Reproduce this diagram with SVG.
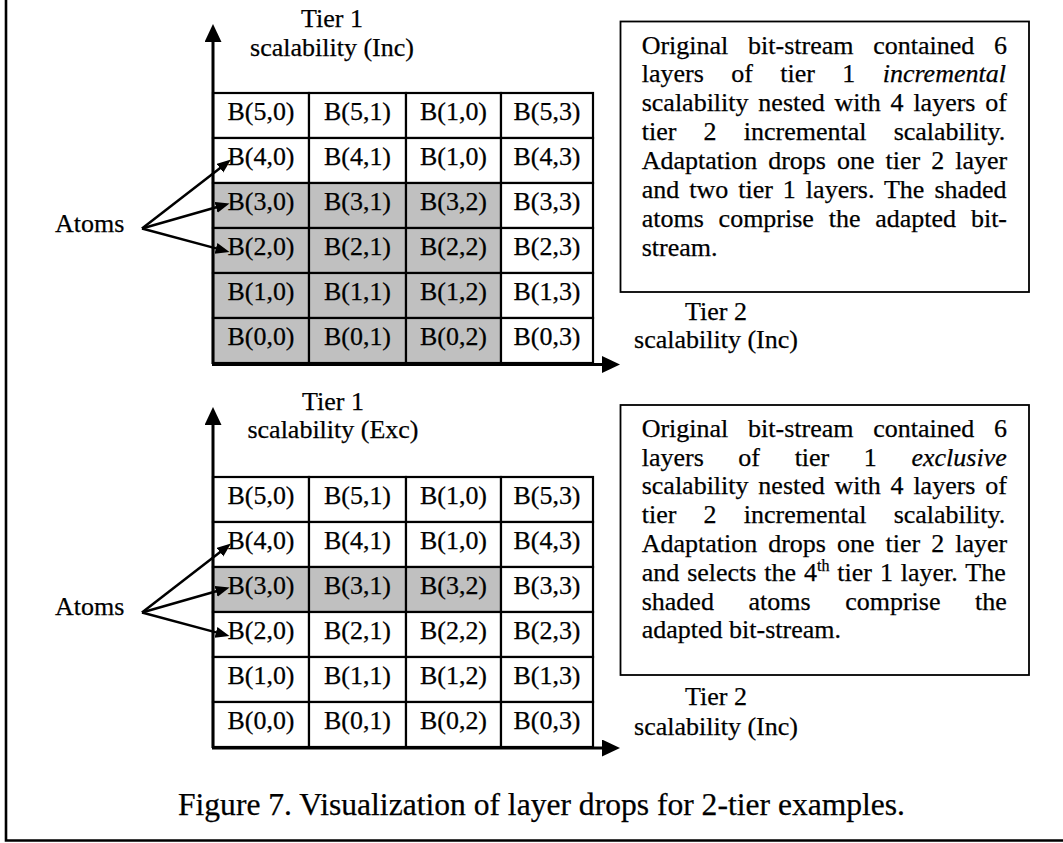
<svg xmlns="http://www.w3.org/2000/svg" width="1063" height="843" viewBox="0 0 1063 843">
<style>
text{font-family:"Liberation Serif","Times New Roman",serif;fill:#000;stroke:#000;stroke-width:0.25}
.cell rect{fill:#fff;stroke:#000;stroke-width:2.2}
.cell.on rect{fill:#c0c0c0}
.cell text{font-size:25px;text-anchor:middle}
.lbl{font-size:26px;text-anchor:middle}
.para{font-size:26px}
.box{fill:#fff;stroke:#000;stroke-width:1.8}
.axis{stroke:#000;stroke-width:3;fill:none}
.atom{stroke:#000;stroke-width:2.5;fill:none}
.frame{stroke:#000;stroke-width:2.6;fill:none}
</style>
<defs>
<marker id="axh" markerUnits="userSpaceOnUse" markerWidth="18" markerHeight="18" refX="2" refY="8.5" orient="auto"><path d="M0,0 L18,8.5 L0,17 z" fill="#000"/></marker>
<marker id="ath" markerUnits="userSpaceOnUse" markerWidth="14" markerHeight="12" refX="2" refY="5.5" orient="auto"><path d="M0,0 L14,5.5 L0,11 z" fill="#000"/></marker>
</defs>
<rect width="1063" height="843" fill="#fff"/>
<path class="frame" d="M6,-2 V840.5 H1065"/>

<!-- ===== Top panel ===== -->
<g id="top-grid">
<g id="t-r5c0" class="cell"><rect x="213" y="93" width="96" height="45"/><text x="261" y="120" textLength="67" lengthAdjust="spacingAndGlyphs">B(5,0)</text></g>
<g id="t-r5c1" class="cell"><rect x="309" y="93" width="97" height="45"/><text x="357.5" y="120" textLength="67" lengthAdjust="spacingAndGlyphs">B(5,1)</text></g>
<g id="t-r5c2" class="cell"><rect x="406" y="93" width="95" height="45"/><text x="453.5" y="120" textLength="67" lengthAdjust="spacingAndGlyphs">B(1,0)</text></g>
<g id="t-r5c3" class="cell"><rect x="501" y="93" width="92" height="45"/><text x="547" y="120" textLength="67" lengthAdjust="spacingAndGlyphs">B(5,3)</text></g>

<g id="t-r4c0" class="cell"><rect x="213" y="138" width="96" height="45"/><text x="261" y="165" textLength="67" lengthAdjust="spacingAndGlyphs">B(4,0)</text></g>
<g id="t-r4c1" class="cell"><rect x="309" y="138" width="97" height="45"/><text x="357.5" y="165" textLength="67" lengthAdjust="spacingAndGlyphs">B(4,1)</text></g>
<g id="t-r4c2" class="cell"><rect x="406" y="138" width="95" height="45"/><text x="453.5" y="165" textLength="67" lengthAdjust="spacingAndGlyphs">B(1,0)</text></g>
<g id="t-r4c3" class="cell"><rect x="501" y="138" width="92" height="45"/><text x="547" y="165" textLength="67" lengthAdjust="spacingAndGlyphs">B(4,3)</text></g>

<g id="t-r3c0" class="cell on"><rect x="213" y="183" width="96" height="45"/><text x="261" y="210" textLength="67" lengthAdjust="spacingAndGlyphs">B(3,0)</text></g>
<g id="t-r3c1" class="cell on"><rect x="309" y="183" width="97" height="45"/><text x="357.5" y="210" textLength="67" lengthAdjust="spacingAndGlyphs">B(3,1)</text></g>
<g id="t-r3c2" class="cell on"><rect x="406" y="183" width="95" height="45"/><text x="453.5" y="210" textLength="67" lengthAdjust="spacingAndGlyphs">B(3,2)</text></g>
<g id="t-r3c3" class="cell"><rect x="501" y="183" width="92" height="45"/><text x="547" y="210" textLength="67" lengthAdjust="spacingAndGlyphs">B(3,3)</text></g>

<g id="t-r2c0" class="cell on"><rect x="213" y="228" width="96" height="45"/><text x="261" y="255" textLength="67" lengthAdjust="spacingAndGlyphs">B(2,0)</text></g>
<g id="t-r2c1" class="cell on"><rect x="309" y="228" width="97" height="45"/><text x="357.5" y="255" textLength="67" lengthAdjust="spacingAndGlyphs">B(2,1)</text></g>
<g id="t-r2c2" class="cell on"><rect x="406" y="228" width="95" height="45"/><text x="453.5" y="255" textLength="67" lengthAdjust="spacingAndGlyphs">B(2,2)</text></g>
<g id="t-r2c3" class="cell"><rect x="501" y="228" width="92" height="45"/><text x="547" y="255" textLength="67" lengthAdjust="spacingAndGlyphs">B(2,3)</text></g>

<g id="t-r1c0" class="cell on"><rect x="213" y="273" width="96" height="45"/><text x="261" y="300" textLength="67" lengthAdjust="spacingAndGlyphs">B(1,0)</text></g>
<g id="t-r1c1" class="cell on"><rect x="309" y="273" width="97" height="45"/><text x="357.5" y="300" textLength="67" lengthAdjust="spacingAndGlyphs">B(1,1)</text></g>
<g id="t-r1c2" class="cell on"><rect x="406" y="273" width="95" height="45"/><text x="453.5" y="300" textLength="67" lengthAdjust="spacingAndGlyphs">B(1,2)</text></g>
<g id="t-r1c3" class="cell"><rect x="501" y="273" width="92" height="45"/><text x="547" y="300" textLength="67" lengthAdjust="spacingAndGlyphs">B(1,3)</text></g>

<g id="t-r0c0" class="cell on"><rect x="213" y="318" width="96" height="45"/><text x="261" y="345" textLength="67" lengthAdjust="spacingAndGlyphs">B(0,0)</text></g>
<g id="t-r0c1" class="cell on"><rect x="309" y="318" width="97" height="45"/><text x="357.5" y="345" textLength="67" lengthAdjust="spacingAndGlyphs">B(0,1)</text></g>
<g id="t-r0c2" class="cell on"><rect x="406" y="318" width="95" height="45"/><text x="453.5" y="345" textLength="67" lengthAdjust="spacingAndGlyphs">B(0,2)</text></g>
<g id="t-r0c3" class="cell"><rect x="501" y="318" width="92" height="45"/><text x="547" y="345" textLength="67" lengthAdjust="spacingAndGlyphs">B(0,3)</text></g>
</g>

<g id="t-tier1-label"><text class="lbl" x="332" y="27">Tier 1</text><text class="lbl" x="332" y="56">scalability (Inc)</text></g>
<g id="t-tier2-label"><text class="lbl" x="716" y="320">Tier 2</text><text class="lbl" x="716" y="348">scalability (Inc)</text></g>
<g id="t-atoms"><text x="55" y="232" font-size="26">Atoms</text></g>

<g id="t-note">
<rect class="box" x="620.5" y="21.5" width="408.5" height="270.5"/>
<text class="para" x="641.7" y="53.5" word-spacing="13.2">Original bit-stream contained 6</text>
<text class="para" x="641.7" y="82.4" word-spacing="20.9">layers of tier 1 <tspan font-style="italic">incremental</tspan></text>
<text class="para" x="641.7" y="111.4" word-spacing="3.3">scalability nested with 4 layers of</text>
<text class="para" x="641.7" y="140.3" word-spacing="20.7">tier 2 incremental scalability.</text>
<text class="para" x="641.7" y="169.2" word-spacing="4.5">Adaptation drops one tier 2 layer</text>
<text class="para" x="641.7" y="198.2" word-spacing="3.5">and two tier 1 layers. The shaded</text>
<text class="para" x="641.7" y="227.1" word-spacing="8.3">atoms comprise the adapted bit-</text>
<text class="para" x="641.7" y="256">stream.</text>
</g>

<!-- ===== Bottom panel ===== -->
<g id="bottom-grid">
<g id="b-r5c0" class="cell"><rect x="213" y="477" width="96" height="45"/><text x="261" y="504" textLength="67" lengthAdjust="spacingAndGlyphs">B(5,0)</text></g>
<g id="b-r5c1" class="cell"><rect x="309" y="477" width="97" height="45"/><text x="357.5" y="504" textLength="67" lengthAdjust="spacingAndGlyphs">B(5,1)</text></g>
<g id="b-r5c2" class="cell"><rect x="406" y="477" width="95" height="45"/><text x="453.5" y="504" textLength="67" lengthAdjust="spacingAndGlyphs">B(1,0)</text></g>
<g id="b-r5c3" class="cell"><rect x="501" y="477" width="92" height="45"/><text x="547" y="504" textLength="67" lengthAdjust="spacingAndGlyphs">B(5,3)</text></g>

<g id="b-r4c0" class="cell"><rect x="213" y="522" width="96" height="45"/><text x="261" y="549" textLength="67" lengthAdjust="spacingAndGlyphs">B(4,0)</text></g>
<g id="b-r4c1" class="cell"><rect x="309" y="522" width="97" height="45"/><text x="357.5" y="549" textLength="67" lengthAdjust="spacingAndGlyphs">B(4,1)</text></g>
<g id="b-r4c2" class="cell"><rect x="406" y="522" width="95" height="45"/><text x="453.5" y="549" textLength="67" lengthAdjust="spacingAndGlyphs">B(1,0)</text></g>
<g id="b-r4c3" class="cell"><rect x="501" y="522" width="92" height="45"/><text x="547" y="549" textLength="67" lengthAdjust="spacingAndGlyphs">B(4,3)</text></g>

<g id="b-r3c0" class="cell on"><rect x="213" y="567" width="96" height="45"/><text x="261" y="594" textLength="67" lengthAdjust="spacingAndGlyphs">B(3,0)</text></g>
<g id="b-r3c1" class="cell on"><rect x="309" y="567" width="97" height="45"/><text x="357.5" y="594" textLength="67" lengthAdjust="spacingAndGlyphs">B(3,1)</text></g>
<g id="b-r3c2" class="cell on"><rect x="406" y="567" width="95" height="45"/><text x="453.5" y="594" textLength="67" lengthAdjust="spacingAndGlyphs">B(3,2)</text></g>
<g id="b-r3c3" class="cell"><rect x="501" y="567" width="92" height="45"/><text x="547" y="594" textLength="67" lengthAdjust="spacingAndGlyphs">B(3,3)</text></g>

<g id="b-r2c0" class="cell"><rect x="213" y="612" width="96" height="45"/><text x="261" y="639" textLength="67" lengthAdjust="spacingAndGlyphs">B(2,0)</text></g>
<g id="b-r2c1" class="cell"><rect x="309" y="612" width="97" height="45"/><text x="357.5" y="639" textLength="67" lengthAdjust="spacingAndGlyphs">B(2,1)</text></g>
<g id="b-r2c2" class="cell"><rect x="406" y="612" width="95" height="45"/><text x="453.5" y="639" textLength="67" lengthAdjust="spacingAndGlyphs">B(2,2)</text></g>
<g id="b-r2c3" class="cell"><rect x="501" y="612" width="92" height="45"/><text x="547" y="639" textLength="67" lengthAdjust="spacingAndGlyphs">B(2,3)</text></g>

<g id="b-r1c0" class="cell"><rect x="213" y="657" width="96" height="45"/><text x="261" y="684" textLength="67" lengthAdjust="spacingAndGlyphs">B(1,0)</text></g>
<g id="b-r1c1" class="cell"><rect x="309" y="657" width="97" height="45"/><text x="357.5" y="684" textLength="67" lengthAdjust="spacingAndGlyphs">B(1,1)</text></g>
<g id="b-r1c2" class="cell"><rect x="406" y="657" width="95" height="45"/><text x="453.5" y="684" textLength="67" lengthAdjust="spacingAndGlyphs">B(1,2)</text></g>
<g id="b-r1c3" class="cell"><rect x="501" y="657" width="92" height="45"/><text x="547" y="684" textLength="67" lengthAdjust="spacingAndGlyphs">B(1,3)</text></g>

<g id="b-r0c0" class="cell"><rect x="213" y="702" width="96" height="45"/><text x="261" y="729" textLength="67" lengthAdjust="spacingAndGlyphs">B(0,0)</text></g>
<g id="b-r0c1" class="cell"><rect x="309" y="702" width="97" height="45"/><text x="357.5" y="729" textLength="67" lengthAdjust="spacingAndGlyphs">B(0,1)</text></g>
<g id="b-r0c2" class="cell"><rect x="406" y="702" width="95" height="45"/><text x="453.5" y="729" textLength="67" lengthAdjust="spacingAndGlyphs">B(0,2)</text></g>
<g id="b-r0c3" class="cell"><rect x="501" y="702" width="92" height="45"/><text x="547" y="729" textLength="67" lengthAdjust="spacingAndGlyphs">B(0,3)</text></g>
</g>

<g id="b-tier1-label"><text class="lbl" x="333" y="410">Tier 1</text><text class="lbl" x="333" y="438">scalability (Exc)</text></g>
<g id="b-tier2-label"><text class="lbl" x="716" y="705">Tier 2</text><text class="lbl" x="716" y="735">scalability (Inc)</text></g>
<g id="b-atoms"><text x="55" y="615" font-size="26">Atoms</text></g>

<g id="b-note">
<rect class="box" x="620.5" y="405" width="408.5" height="270"/>
<text class="para" x="641.7" y="436.8" word-spacing="13.2">Original bit-stream contained 6</text>
<text class="para" x="641.7" y="465.6" word-spacing="28.1">layers of tier 1 <tspan font-style="italic">exclusive</tspan></text>
<text class="para" x="641.7" y="494.4" word-spacing="3.3">scalability nested with 4 layers of</text>
<text class="para" x="641.7" y="523.2" word-spacing="20.7">tier 2 incremental scalability.</text>
<text class="para" x="641.7" y="552" word-spacing="4.5">Adaptation drops one tier 2 layer</text>
<text class="para" x="641.7" y="580.8" word-spacing="1.4">and selects the 4<tspan font-size="16" dy="-10">th</tspan><tspan dy="10"> tier 1 layer. The</tspan></text>
<text class="para" x="641.7" y="609.6" word-spacing="28.1">shaded atoms comprise the</text>
<text class="para" x="641.7" y="638.4">adapted bit-stream.</text>
</g>

<g id="caption"><text x="178" y="815" font-size="32" textLength="727" lengthAdjust="spacingAndGlyphs">Figure 7. Visualization of layer drops for 2-tier examples.</text></g>

<g id="connectors">
<path class="axis" d="M213,364 V40" marker-end="url(#axh)"/>
<path class="axis" d="M212,364.5 H604" marker-end="url(#axh)"/>
<path class="axis" d="M213,748 V423" marker-end="url(#axh)"/>
<path class="axis" d="M212,748 H604" marker-end="url(#axh)"/>
<path class="atom" d="M142,228.5 L221.5,166.9" marker-end="url(#ath)"/>
<path class="atom" d="M142,228.5 L218,206.8" marker-end="url(#ath)"/>
<path class="atom" d="M142,228.5 L217.9,248.9" marker-end="url(#ath)"/>
<path class="atom" d="M142,612.5 L221.5,550.9" marker-end="url(#ath)"/>
<path class="atom" d="M142,612.5 L218,590.8" marker-end="url(#ath)"/>
<path class="atom" d="M142,612.5 L217.9,632.9" marker-end="url(#ath)"/>
</g>
</svg>
